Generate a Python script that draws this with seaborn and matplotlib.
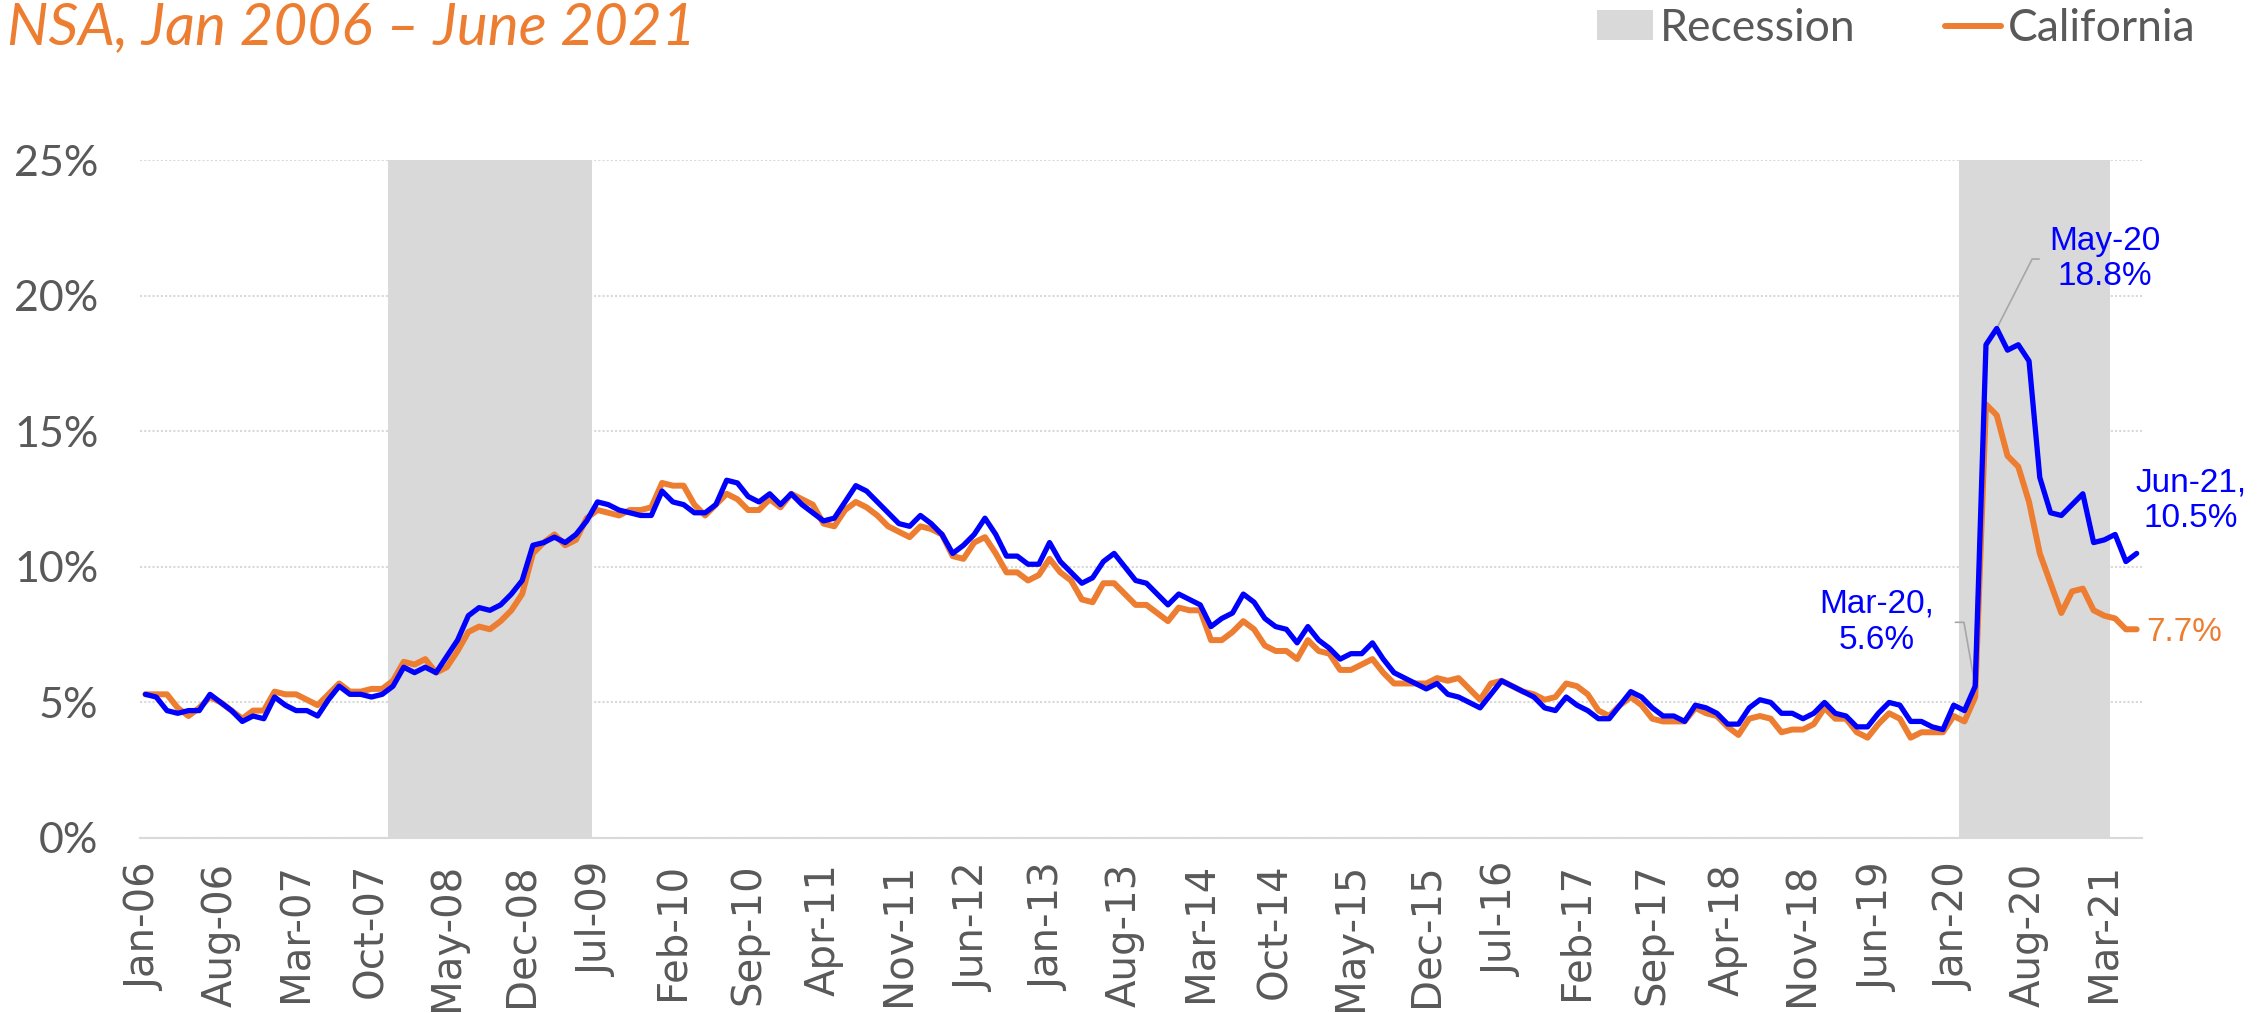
import numpy as np
import pandas as pd
import seaborn as sns
import matplotlib.pyplot as plt
from matplotlib.patches import Patch
from matplotlib.lines import Line2D

# monthly rates in %, Jan 2006 - Jun 2021
california = [
    5.3, 5.3, 5.3, 4.8, 4.5, 4.8, 5.2, 5.0, 4.7, 4.4, 4.7, 4.7,
    5.4, 5.3, 5.3, 5.1, 4.9, 5.3, 5.7, 5.4, 5.4, 5.5, 5.5, 5.8,
    6.5, 6.4, 6.6, 6.1, 6.3, 6.9, 7.6, 7.8, 7.7, 8.0, 8.4, 9.0,
    10.5, 10.9, 11.2, 10.8, 11.0, 11.8, 12.1, 12.0, 11.9, 12.1, 12.1, 12.2,
    13.1, 13.0, 13.0, 12.3, 11.9, 12.3, 12.7, 12.5, 12.1, 12.1, 12.5, 12.2,
    12.7, 12.5, 12.3, 11.6, 11.5, 12.1, 12.4, 12.2, 11.9, 11.5, 11.3, 11.1,
    11.5, 11.4, 11.2, 10.4, 10.3, 10.9, 11.1, 10.5, 9.8, 9.8, 9.5, 9.7,
    10.3, 9.8, 9.5, 8.8, 8.7, 9.4, 9.4, 9.0, 8.6, 8.6, 8.3, 8.0,
    8.5, 8.4, 8.4, 7.3, 7.3, 7.6, 8.0, 7.7, 7.1, 6.9, 6.9, 6.6,
    7.3, 6.9, 6.8, 6.2, 6.2, 6.4, 6.6, 6.1, 5.7, 5.7, 5.7, 5.7,
    5.9, 5.8, 5.9, 5.5, 5.1, 5.7, 5.8, 5.6, 5.4, 5.3, 5.1, 5.2,
    5.7, 5.6, 5.3, 4.7, 4.5, 4.9, 5.2, 4.9, 4.4, 4.3, 4.3, 4.3,
    4.8, 4.6, 4.5, 4.1, 3.8, 4.4, 4.5, 4.4, 3.9, 4.0, 4.0, 4.2,
    4.8, 4.4, 4.4, 3.9, 3.7, 4.2, 4.6, 4.4, 3.7, 3.9, 3.9, 3.9,
    4.5, 4.3, 5.2, 16.0, 15.6, 14.1, 13.7, 12.4, 10.5, 9.4, 8.3, 9.1,
    9.2, 8.4, 8.2, 8.1, 7.7, 7.7,
]
comparison = [
    5.3, 5.2, 4.7, 4.6, 4.7, 4.7, 5.3, 5.0, 4.7, 4.3, 4.5, 4.4,
    5.2, 4.9, 4.7, 4.7, 4.5, 5.1, 5.6, 5.3, 5.3, 5.2, 5.3, 5.6,
    6.3, 6.1, 6.3, 6.1, 6.7, 7.3, 8.2, 8.5, 8.4, 8.6, 9.0, 9.5,
    10.8, 10.9, 11.1, 10.9, 11.2, 11.7, 12.4, 12.3, 12.1, 12.0, 11.9, 11.9,
    12.8, 12.4, 12.3, 12.0, 12.0, 12.3, 13.2, 13.1, 12.6, 12.4, 12.7, 12.3,
    12.7, 12.3, 12.0, 11.7, 11.8, 12.4, 13.0, 12.8, 12.4, 12.0, 11.6, 11.5,
    11.9, 11.6, 11.2, 10.5, 10.8, 11.2, 11.8, 11.2, 10.4, 10.4, 10.1, 10.1,
    10.9, 10.2, 9.8, 9.4, 9.6, 10.2, 10.5, 10.0, 9.5, 9.4, 9.0, 8.6,
    9.0, 8.8, 8.6, 7.8, 8.1, 8.3, 9.0, 8.7, 8.1, 7.8, 7.7, 7.2,
    7.8, 7.3, 7.0, 6.6, 6.8, 6.8, 7.2, 6.6, 6.1, 5.9, 5.7, 5.5,
    5.7, 5.3, 5.2, 5.0, 4.8, 5.3, 5.8, 5.6, 5.4, 5.2, 4.8, 4.7,
    5.2, 4.9, 4.7, 4.4, 4.4, 4.9, 5.4, 5.2, 4.8, 4.5, 4.5, 4.3,
    4.9, 4.8, 4.6, 4.2, 4.2, 4.8, 5.1, 5.0, 4.6, 4.6, 4.4, 4.6,
    5.0, 4.6, 4.5, 4.1, 4.1, 4.6, 5.0, 4.9, 4.3, 4.3, 4.1, 4.0,
    4.9, 4.7, 5.6, 18.2, 18.8, 18.0, 18.2, 17.6, 13.3, 12.0, 11.9, 12.3,
    12.7, 10.9, 11.0, 11.2, 10.2, 10.5,
]
months = pd.date_range('2006-01-01', periods=len(california), freq='MS').strftime('%b-%y').tolist()
recessions = [('Dec-07', 'Jun-09'), ('Feb-20', 'Mar-21')]
y_ticks = [0, 5, 10, 15, 20, 25]
label_every = 7

ORANGE = '#ED7D31'
BLUE = '#0000FF'
GREY_TXT = '#595959'
SHADE = '#D9D9D9'

x = np.arange(len(months))
rec = np.zeros(len(months))
for a, b in recessions:
    rec[months.index(a):months.index(b) + 1] = y_ticks[-1]

sns.set_theme(style='white')
plt.rcParams['font.family'] = ['DejaVu Sans']

fig = plt.figure(figsize=(22.66, 10.13), dpi=100)
ax = fig.add_axes([0.0618, 0.1728, 0.8835, 0.6688])

ax.bar(x, rec, width=1.0, color=SHADE, linewidth=0, zorder=1)
sns.lineplot(x=x, y=california, ax=ax, color=ORANGE, linewidth=4.3, legend=False, zorder=3)
sns.lineplot(x=x, y=comparison, ax=ax, color=BLUE, linewidth=3.8, legend=False, zorder=4)

ax.set_xlim(-0.5, len(months) - 0.5)
ax.set_ylim(y_ticks[0], y_ticks[-1])
ax.set_axisbelow(True)
ax.yaxis.grid(True, color=SHADE, linestyle=(0, (1, 1)), linewidth=1.5)
ax.xaxis.grid(False)
for s in ['top', 'right', 'left']:
    ax.spines[s].set_visible(False)
ax.spines['bottom'].set_color(SHADE)
ax.spines['bottom'].set_linewidth(1.5)

tick_pos = x[::label_every]
ax.set_xticks(tick_pos)
ax.set_xticklabels([months[i] for i in tick_pos], rotation=90, fontsize=29,
                   color=GREY_TXT, family='DejaVu Sans')
ax.set_yticks(y_ticks)
ax.set_yticklabels([f'{v}%' for v in y_ticks], fontsize=31, color=GREY_TXT, family='Lato')
ax.tick_params(axis='x', length=0, pad=18)
ax.tick_params(axis='y', length=0, pad=30)
ax.set_xlabel('')
ax.set_ylabel('')

# callouts
ann_font = dict(family='Liberation Sans', fontsize=24, linespacing=1.2)
leader = dict(arrowstyle='-', color='#A6A6A6', lw=1.2)

i = months.index('May-20')
ax.annotate(f'May-20\n{comparison[i]}%', xy=(i, comparison[i]), xytext=(78, 50),
            textcoords='offset points', ha='center', va='center', color=BLUE,
            arrowprops=dict(leader, relpos=(0, 0.5), shrinkA=5, shrinkB=0,
                            connectionstyle='angle,angleA=0,angleB=63,rad=0'),
            **ann_font)

i = months.index('Mar-20')
ax.annotate(f'Mar-20,\n{comparison[i]}%', xy=(i, comparison[i]), xytext=(-71, 46),
            textcoords='offset points', ha='center', va='center', color=BLUE,
            arrowprops=dict(leader, relpos=(1, 0.5), shrinkA=13, shrinkB=0,
                            connectionstyle='angle,angleA=0,angleB=100,rad=0'),
            **ann_font)

i = len(months) - 1
ax.annotate(f'{months[i]},\n{comparison[i]}%', xy=(i, comparison[i]), xytext=(39, 38),
            textcoords='offset points', ha='center', va='center', color=BLUE,
            annotation_clip=False, **ann_font)
ax.annotate(f'{california[i]}%', xy=(i, california[i]), xytext=(7, -2),
            textcoords='offset points', ha='left', va='center', color=ORANGE,
            annotation_clip=False, **ann_font)

# title line (top of image) and legend
fig.text(0.003, 1 - 44 / 1013, 'NSA, Jan 2006 \u2013 June 2021', fontsize=42,
         family='Lato', style='italic', color=ORANGE, ha='left', va='baseline')

handles = [Patch(facecolor=SHADE, edgecolor='none', label='Recession'),
           Line2D([0], [0], color=ORANGE, lw=4.3, solid_capstyle='round', label='California')]
leg = fig.legend(handles=handles, loc='center right', bbox_to_anchor=(0.969, 0.972), ncol=2,
                 frameon=False, handlelength=1.28, handleheight=0.65,
                 handletextpad=0.15, columnspacing=2.0, borderpad=0, borderaxespad=0,
                 prop={'family': 'Lato', 'size': 32})
for t in leg.get_texts():
    t.set_color(GREY_TXT)

fig.savefig('out.png', dpi=100)
